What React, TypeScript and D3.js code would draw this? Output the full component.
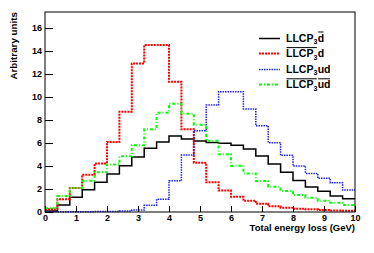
import React, { useEffect, useRef } from 'react';
import * as d3 from 'd3';

// bin lower edges, 0.4 GeV wide
const binLow = [0, 0.4, 0.8, 1.2, 1.6, 2.0, 2.4, 2.8, 3.2, 3.6, 4.0, 4.4, 4.8, 5.2, 5.6, 6.0, 6.4, 6.8, 7.2, 7.6, 8.0, 8.4, 8.8, 9.2, 9.6];
const binWidth = 0.4;

const llcpDbar = [0.08, 0.6, 1.28, 1.94, 2.58, 3.3, 4.03, 4.78, 5.54, 6.08, 6.62, 6.35, 6.18, 6.05, 5.98, 5.8, 5.48, 4.87, 4.17, 3.45, 2.73, 2.17, 1.8, 1.39, 1.16];
const antiLlcpD = [0.23, 1.1, 2.09, 3.25, 4.23, 6.09, 8.72, 12.93, 14.52, 14.52, 11.33, 7.2, 4.29, 2.58, 1.86, 1.33, 0.98, 0.72, 0.49, 0.38, 0.29, 0.23, 0.17, 0.12, 0.1];
const llcpUd = [0.02, 0.02, 0.02, 0.03, 0.04, 0.05, 0.08, 0.17, 0.58, 1.1, 2.72, 4.95, 7.07, 9.3, 10.46, 10.46, 8.96, 7.5, 6.03, 4.93, 4.0, 3.36, 2.93, 2.55, 1.91];
const antiLlcpUdbar = [0.32, 1.39, 2.09, 2.72, 3.45, 4.14, 4.84, 5.8, 7.2, 8.63, 9.42, 8.55, 7.6, 6.2, 5.02, 4.03, 3.36, 2.7, 2.2, 1.83, 1.48, 1.25, 0.98, 0.81, 0.61];

const xMajor = [0, 1, 2, 3, 4, 5, 6, 7, 8, 9, 10];
const yMajor = [0, 2, 4, 6, 8, 10, 12, 14, 16];

// label pieces: text, subscript?, overline group
const series = [
	{ values: llcpDbar, color: '#000000', dash: null, width: 1.5, label: [['LLCP', 0, 0], ['3', 1, 0], ['d', 0, 1]] },
	{ values: antiLlcpD, color: '#ff0000', dash: '2,1', width: 2, label: [['LLCP', 0, 1], ['3', 1, 1], ['d', 0, 0]] },
	{ values: llcpUd, color: '#2020ff', dash: '1.5,1', width: 1.5, label: [['LLCP', 0, 0], ['3', 1, 0], ['ud', 0, 0]] },
	{ values: antiLlcpUdbar, color: '#00ff00', dash: '3,2,1,2', width: 2, label: [['LLCP', 0, 1], ['3', 1, 1], ['ud', 0, 2]] }
];

const W = 374;
const H = 253;
const m = { top: 12, right: 19, bottom: 41, left: 45 };
const font = 'Liberation Sans, Arial, Helvetica, sans-serif';

export default function App() {
	const ref = useRef(null);

	useEffect(() => {
		const svg = d3.select(ref.current);
		svg.selectAll('*').remove();

		const x = d3.scaleLinear().domain([0, 10]).range([m.left, W - m.right]);
		const y = d3.scaleLinear().domain([0, 17.4]).range([H - m.bottom, m.top]);

		svg.append('rect').attr('width', W).attr('height', H).attr('fill', '#fff');

		// histograms as step outlines
		series.forEach(s => {
			let p = '';
			s.values.forEach((v, i) => {
				const x0 = x(binLow[i]);
				const x1 = x(binLow[i] + binWidth);
				p += (i === 0 ? `M${x0},${y(v)}` : `V${y(v)}`) + `H${x1}`;
			});
			svg
				.append('path')
				.attr('d', p)
				.attr('fill', 'none')
				.attr('stroke', s.color)
				.attr('stroke-width', s.width)
				.attr('stroke-dasharray', s.dash);
		});

		// frame
		svg
			.append('rect')
			.attr('x', m.left)
			.attr('y', m.top)
			.attr('width', W - m.left - m.right)
			.attr('height', H - m.top - m.bottom)
			.attr('fill', 'none')
			.attr('stroke', '#000')
			.attr('stroke-width', 1);

		// axes, ticks pointing inside like ROOT
		const xMinor = d3.range(0, 10.01, 0.2);
		const yMinor = d3.range(0, 17.3, 0.4);

		const gx = svg.append('g').attr('transform', `translate(0,${H - m.bottom})`);
		gx.call(d3.axisBottom(x).tickValues(xMinor).tickSize(-3).tickFormat(() => ''));
		gx.call(d3.axisBottom(x).tickValues(xMajor).tickSize(-6).tickPadding(3).tickFormat(d3.format('d')));

		const gy = svg.append('g').attr('transform', `translate(${m.left},0)`);
		gy.call(d3.axisLeft(y).tickValues(yMinor).tickSize(-4).tickFormat(() => ''));
		gy.call(d3.axisLeft(y).tickValues(yMajor).tickSize(-8).tickPadding(3).tickFormat(d3.format('d')));

		svg.selectAll('.domain').remove();
		svg.selectAll('.tick line').attr('stroke', '#000');
		svg
			.selectAll('.tick text')
			.attr('font-family', font)
			.attr('font-size', 9)
			.attr('font-weight', 'bold')
			.attr('fill', '#000');

		// axis titles
		svg
			.append('text')
			.attr('x', W - m.right)
			.attr('y', 231)
			.attr('text-anchor', 'end')
			.attr('font-family', font)
			.attr('font-size', 9.5)
			.attr('font-weight', 'bold')
			.text('Total energy loss (GeV)');

		svg
			.append('text')
			.attr('transform', `translate(17,${m.top}) rotate(-90)`)
			.attr('text-anchor', 'end')
			.attr('font-family', font)
			.attr('font-size', 9.8)
			.attr('font-weight', 'bold')
			.text('Arbitrary units');

		// legend
		const legend = svg.append('g');
		series.forEach((s, i) => {
			const base = 41.5 + i * 15.6;
			legend
				.append('line')
				.attr('x1', 259)
				.attr('x2', 280)
				.attr('y1', Math.round(base - 4) + 0.5)
				.attr('y2', Math.round(base - 4) + 0.5)
				.attr('stroke', s.color)
				.attr('stroke-width', s.width)
				.attr('stroke-dasharray', s.dash);

			let cx = 286;
			const bars = {};
			s.label.forEach(([t, sub, over]) => {
				const txt = legend
					.append('text')
					.attr('x', cx)
					.attr('y', sub ? base + 2.5 : base)
					.attr('font-family', font)
					.attr('font-size', sub ? 7 : 10.5)
					.attr('font-weight', 'bold')
					.text(t);
				const w = txt.node().getComputedTextLength();
				if (over) {
					if (!bars[over]) bars[over] = [cx, cx + w];
					else bars[over][1] = cx + w;
				}
				cx += w + (sub ? 0.3 : 0);
			});
			Object.values(bars).forEach(([a, b]) => {
				legend
					.append('line')
					.attr('x1', a + 0.5)
					.attr('x2', b - 0.5)
					.attr('y1', base - 9.5)
					.attr('y2', base - 9.5)
					.attr('stroke', '#000')
					.attr('stroke-width', 1);
			});
		});
	}, []);

	return <svg ref={ref} width={W} height={H} style={{ position: 'absolute', left: 0, top: 0 }} />;
}
